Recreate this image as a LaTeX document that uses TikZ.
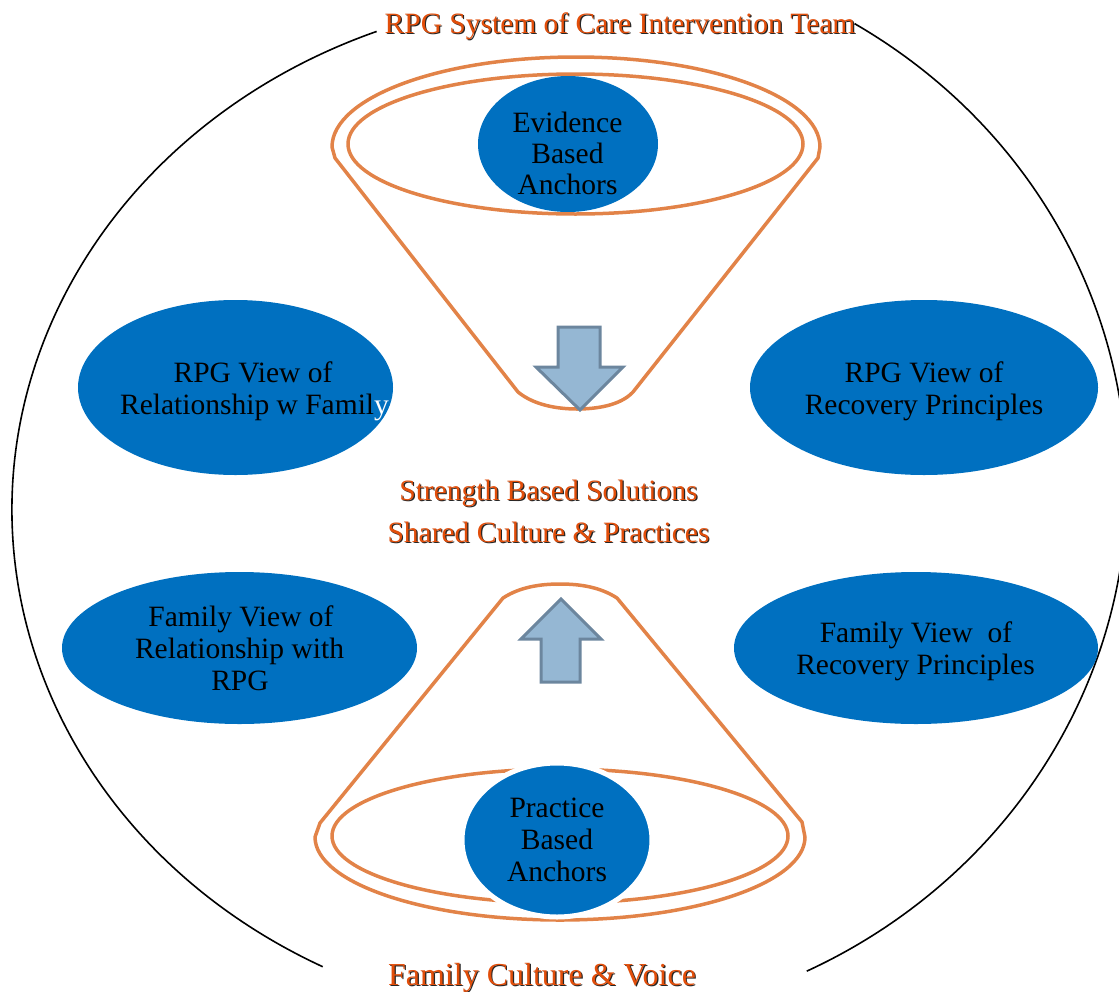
\documentclass[tikz,border=0pt]{standalone}
\usepackage{fontspec}
\setmainfont{Liberation Serif}
\usetikzlibrary{shapes.geometric}
\definecolor{blueE}{RGB}{0,112,192}
\definecolor{orangeL}{RGB}{226,131,72}
\definecolor{orangeT}{RGB}{226,78,10}
\definecolor{arrowF}{RGB}{149,183,211}
\definecolor{arrowD}{RGB}{108,134,158}
\begin{document}
\begin{tikzpicture}[x=1pt,y=-1pt,
  blob/.style={ellipse, fill=blueE, inner sep=0pt, outer sep=0pt},
  funnel/.style={draw=orangeL, line width=3.5pt, line join=round},
  blockarrow/.style={fill=arrowF, draw=arrowD, line width=3pt, line join=miter},
  ring/.style={line width=1.6pt, black},
  lbl/.style={font=\fontsize{29.5}{32}\selectfont, inner sep=0pt, anchor=base},
  otext/.style={lbl, text=orangeT},
  oshadow/.style={lbl, text=black!85}
]
\useasboundingbox (0,0) rectangle (1119,991);

% outer black ring (two arcs, broken by the titles)
\coordinate (lc) at (586,510);
\coordinate (rc) at (560,485);
\draw[ring] ([shift={(117.3:574 and 514)}]lc)
   arc[start angle=117.3, end angle=248.6, x radius=574, y radius=514];
\draw[ring] ([shift={(-58.7:567 and 540)}]rc)
   arc[start angle=-58.7, end angle=64.2, x radius=567, y radius=540];

% top funnel
\node[blob, minimum width=180, minimum height=136] (evid) at (568,144) {};
\draw[funnel] (335,158) -- (518,392)
   .. controls (535,406) and (560,409) .. (577,409)
   .. controls (595,409) and (620,406) .. (633,392)
   -- (818,158) -- (820,147)
   arc[start angle=0, end angle=-180, x radius=244, y radius=90]
   -- cycle;
\draw[funnel] (575.5,144) ellipse [x radius=227.5, y radius=70];

% bottom funnel
\draw[funnel] (320,823) -- (503,598)
   .. controls (520,587) and (540,584) .. (560,584)
   .. controls (580,584) and (600,587) .. (617,598)
   -- (802,822) -- (805,837)
   arc[start angle=0, end angle=180, x radius=245, y radius=83]
   -- cycle;
\draw[funnel] (560,836) ellipse [x radius=228, y radius=67];
\node[blob, draw=white, line width=5pt, minimum width=190, minimum height=154] (pract) at (557,840) {};

% side ellipses
\node[blob, minimum width=315, minimum height=175] (rpgrel) at (235.5,387.5) {};
\node[blob, minimum width=348, minimum height=175] (rpgrec) at (924,387.5) {};
\node[blob, minimum width=355, minimum height=152] (famrel) at (239.5,648) {};
\node[blob, minimum width=364, minimum height=152] (famrec) at (916,648) {};

% block arrows
\draw[blockarrow] (558,327) -- (600,327) -- (600,367) -- (623,367) -- (580,410)
   -- (536,367) -- (558,367) -- cycle;
\draw[blockarrow] (561,599) -- (601,639) -- (580,639) -- (580,682) -- (541,682)
   -- (541,639) -- (521,639) -- cycle;

% texts in the anchors
\node[lbl] (ev1) at (567.5,132) {Evidence};
\node[lbl] (ev2) at (567.5,163) {Based};
\node[lbl] (ev3) at (567.5,194) {Anchors};
\node[lbl] (pr1) at (557,817) {Practice};
\node[lbl] (pr2) at (557,849) {Based};
\node[lbl] (pr3) at (557,881) {Anchors};

% texts in the side ellipses
\node[lbl] (a1) at (253,382) {RPG View of};
\node[lbl] (a2) at (254.5,414) {Relationship w Famil\textcolor{white}{y}};
\node[lbl] (b1) at (924,382) {RPG View of};
\node[lbl] (b2) at (924,414) {Recovery Principles};
\node[lbl] (c1) at (241,626) {Family View of};
\node[lbl] (c2) at (239.5,658) {Relationship with};
\node[lbl] (c3) at (240,690) {RPG};
\node[lbl] (d1) at (916,642) {Family View\ \ of};
\node[lbl] (d2) at (915.5,674) {Recovery Principles};

% orange shadowed titles
\node[oshadow] at (621.2,34.2) {RPG System of Care Intervention Team};
\node[otext] (title) at (620,33) {RPG System of Care Intervention Team};
\node[oshadow] at (549.7,501.2) {Strength Based Solutions};
\node[otext] (sbs) at (548.5,500) {Strength Based Solutions};
\node[oshadow] at (549.7,543.2) {Shared Culture \& Practices};
\node[otext] (scp) at (548.5,542) {Shared Culture \& Practices};
\node[oshadow, font=\fontsize{32}{34}\selectfont] at (543.2,986.2) {Family Culture \& Voice};
\node[otext, font=\fontsize{32}{34}\selectfont] (fcv) at (542,985) {Family Culture \& Voice};
\end{tikzpicture}
\end{document}
